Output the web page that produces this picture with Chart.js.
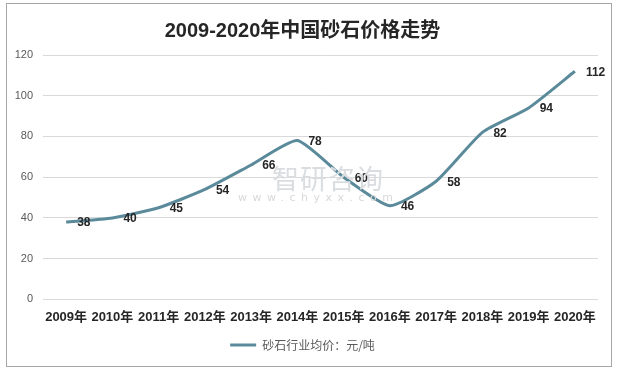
<!DOCTYPE html>
<html>
<head>
<meta charset="utf-8">
<script src="https://cdn.jsdelivr.net/npm/chart.js@4.4.1/dist/chart.umd.min.js"></script>
<style>
    body { margin: 0; background: #fff; }
    #box {
        position: absolute; left: 6px; top: 3px;
        width: 604px; height: 362px;
        border: 1px solid #a6a6a6;
    }
    #wm {
        position: absolute; left: 0; top: 0; width: 617px; height: 370px;
        pointer-events: none; font-family: "Noto Sans CJK SC", sans-serif;
    }
    #wm .big { position: absolute; left: 272px; top: 158px; font-size: 27px; color: #dadde0; letter-spacing: 1px; }
    #wm .small { position: absolute; left: 238px; top: 191px; font-size: 11px; color: #d8d8d8; letter-spacing: 5.5px; font-family: "DejaVu Sans", sans-serif; }
</style>
</head>
<body>
<div id="box"><canvas id="priceChart" width="604" height="362"></canvas></div>
<div id="wm"><span class="big">智研咨询</span><span class="small">www.chyxx.com</span></div>
<script>
// categories and values
const years = ['2009年', '2010年', '2011年', '2012年', '2013年', '2014年', '2015年', '2016年', '2017年', '2018年', '2019年', '2020年'];
const prices = [38, 40, 45, 54, 66, 78, 60, 46, 58, 82, 94, 112];
const yTicks = [0, 20, 40, 60, 80, 100, 120];

const seriesName = '砂石行业均价：元/吨';
const lineColor = '#5b8a9b';

// draw the value next to each point, like excel's "right" label
const valueLabels = {
    id: 'valueLabels',
    afterDatasetsDraw(chart) {
        const ctx = chart.ctx;
        const meta = chart.getDatasetMeta(0);
        ctx.save();
        ctx.font = 'bold 12px "Liberation Sans", sans-serif';
        ctx.fillStyle = '#262626';
        ctx.textAlign = 'left';
        ctx.textBaseline = 'middle';
        meta.data.forEach((pt, i) => {
            ctx.fillText(String(prices[i]), pt.x + 11, pt.y + 1);
        });
        ctx.restore();
    }
};

const ctx = document.getElementById('priceChart').getContext('2d');
new Chart(ctx, {
    type: 'line',
    data: {
        labels: years,
        datasets: [{
            label: seriesName,
            data: prices,
            borderColor: lineColor,
            backgroundColor: lineColor,
            borderWidth: 3,
            pointRadius: 0,
            tension: 0.18,
            fill: false
        }]
    },
    options: {
        responsive: false,
        animation: false,
        layout: { padding: { left: 0, right: 13, top: 11, bottom: 5 } },
        plugins: {
            title: {
                display: true,
                text: '2009-2020年中国砂石价格走势',
                color: '#262626',
                font: { size: 20, weight: 'bold', family: '"Liberation Sans", "Noto Sans CJK SC", sans-serif' },
                padding: { top: 4, bottom: 12 }
            },
            legend: {
                position: 'bottom',
                labels: {
                    usePointStyle: true,
                    pointStyle: 'line',
                    pointStyleWidth: 26,
                    color: '#595959',
                    font: { size: 12, family: '"Noto Sans CJK SC", sans-serif' },
                    padding: 4
                }
            },
            tooltip: { enabled: false }
        },
        scales: {
            x: {
                offset: true,
                grid: { display: false, drawTicks: false, offset: true },
                border: { display: false },
                ticks: {
                    color: '#262626',
                    font: { size: 13, weight: 'bold', family: '"Liberation Sans", "Noto Sans CJK SC", sans-serif' },
                    maxRotation: 0,
                    autoSkip: false,
                    padding: 10
                }
            },
            y: {
                min: 0,
                max: 120,
                afterBuildTicks: scale => { scale.ticks = yTicks.map(v => ({ value: v })); },
                afterFit: scale => { scale.width = 36; },
                grid: { color: '#d9d9d9', drawTicks: false },
                border: { display: false },
                ticks: {
                    color: '#595959',
                    font: { size: 11, family: '"Liberation Sans", sans-serif' },
                    padding: 10
                }
            }
        }
    },
    plugins: [valueLabels]
});
</script>
</body>
</html>
